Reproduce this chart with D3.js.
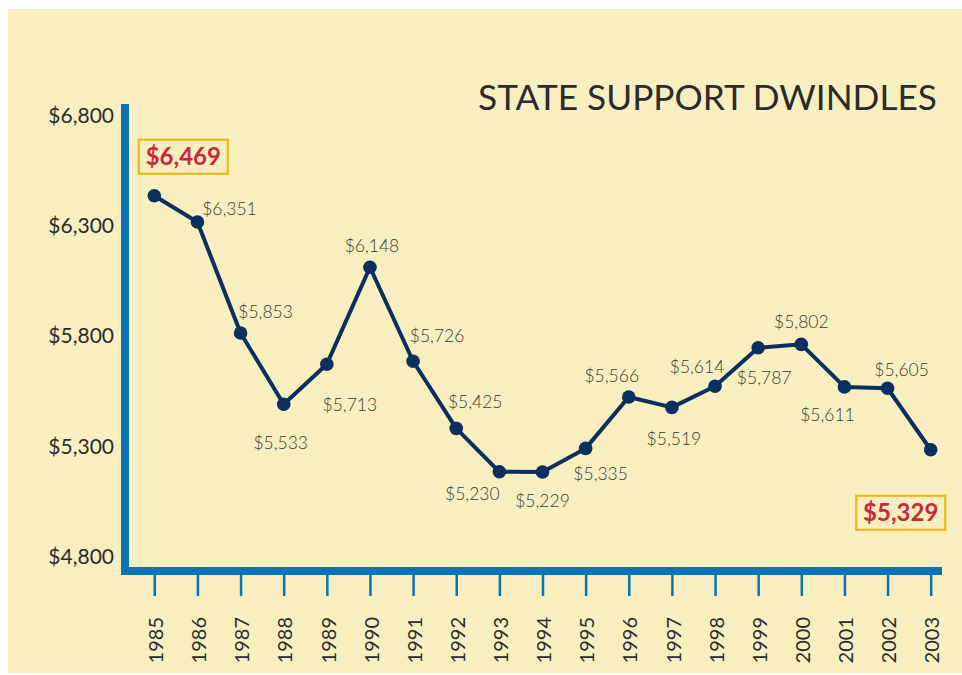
<!DOCTYPE html>
<html>
<head>
<meta charset="utf-8">
<script src="https://cdn.jsdelivr.net/npm/d3@7/dist/d3.min.js"></script>
<style>
  html, body { margin: 0; padding: 0; background: #ffffff; }
  svg { display: block; }
  text { font-family: Lato, "Open Sans", sans-serif; }
</style>
</head>
<body>
<svg id="chart" width="962" height="675"></svg>
<script>
// ---- data ----
const years = [1985, 1986, 1987, 1988, 1989, 1990, 1991, 1992, 1993, 1994,
               1995, 1996, 1997, 1998, 1999, 2000, 2001, 2002, 2003];
const values = [6469, 6351, 5853, 5533, 5713, 6148, 5726, 5425, 5230, 5229,
                5335, 5566, 5519, 5614, 5787, 5802, 5611, 5605, 5329];
const yTickValues = [4800, 5300, 5800, 6300, 6800];
const highlightYears = [1985, 2003];
const title = "STATE SUPPORT DWINDLES";

// ---- label placement (center offsets from the point, px) ----
const labelOffsets = [
  [29, -39], [32, -13], [25, -21], [-3, 38], [23, 41], [2, -22], [24, -26],
  [19, -27], [-27, 22], [0, 29], [15, 25], [-17, -21], [2, 31], [-18, -20],
  [6, 30], [0, -23], [-17, 28], [14, -19], [-30, 63]
];

const colors = {
  page: "#ffffff", bg: "#f8eebf", axis: "#0b72b4", line: "#0b2f5f",
  text: "#2b2b2b", label: "#3a3a3a", hi: "#c9283a", box: "#e8b71d"
};

const svg = d3.select("#chart");
svg.append("rect").attr("width", 962).attr("height", 675).attr("fill", colors.page);
svg.append("rect").attr("x", 8).attr("y", 9).attr("width", 954).attr("height", 664).attr("fill", colors.bg);

const x = d3.scaleLinear().domain([1985, 2003]).range([154.3, 930.7]);
const y = d3.scaleLinear().domain([4800, 6800]).range([567.6, 122]);
// tick labels in the original sit on a slightly tighter grid
const yLabel = d3.scaleLinear().domain([4800, 6800]).range([556.7, 115.7]);

const fmt = v => "$" + d3.format(",")(v);

// title
svg.append("text")
  .attr("x", 937).attr("y", 110)
  .attr("text-anchor", "end")
  .attr("font-size", 35)
  .attr("fill", colors.text)
  .attr("textLength", 459)
  .attr("lengthAdjust", "spacingAndGlyphs")
  .text(title);

// y axis labels
const yAxis = d3.axisLeft(yLabel).tickValues(yTickValues).tickSize(0).tickPadding(7).tickFormat(fmt);
const gy = svg.append("g").attr("transform", "translate(121,0)").call(yAxis);
gy.select(".domain").remove();
gy.selectAll("text").attr("font-size", 21).attr("fill", colors.text)
  .attr("font-family", "Lato, 'Open Sans', sans-serif");

// x axis ticks
const xAxis = d3.axisBottom(x).tickValues(years).tickSize(21).tickFormat("");
const gx = svg.append("g").attr("transform", "translate(0,575)").call(xAxis);
gx.select(".domain").remove();
gx.selectAll("line").attr("stroke", colors.axis).attr("stroke-width", 2.5);

// year labels (rotated)
svg.append("g").selectAll("text")
  .data(years).join("text")
  .attr("transform", d => `translate(${x(d) + 1.5},617) rotate(-90)`)
  .attr("text-anchor", "end")
  .attr("dy", "0.36em")
  .attr("font-size", 20)
  .attr("fill", colors.text)
  .text(d => d);

// axis bars
svg.append("rect").attr("x", 121).attr("y", 104).attr("width", 8).attr("height", 471).attr("fill", colors.axis);
svg.append("rect").attr("x", 121).attr("y", 567).attr("width", 821).attr("height", 8).attr("fill", colors.axis);

// line
const data = years.map((yr, i) => ({ year: yr, value: values[i], off: labelOffsets[i] }));
svg.append("path")
  .datum(data)
  .attr("fill", "none")
  .attr("stroke", colors.line)
  .attr("stroke-width", 4)
  .attr("stroke-linejoin", "round")
  .attr("d", d3.line().x(d => x(d.year)).y(d => y(d.value)));

svg.append("g").selectAll("circle")
  .data(data).join("circle")
  .attr("cx", d => x(d.year))
  .attr("cy", d => y(d.value))
  .attr("r", 6.8)
  .attr("fill", colors.line);

// value labels
const normal = data.filter(d => !highlightYears.includes(d.year));
svg.append("g").selectAll("text")
  .data(normal).join("text")
  .attr("x", d => x(d.year) + d.off[0])
  .attr("y", d => y(d.value) + d.off[1])
  .attr("text-anchor", "middle")
  .attr("dy", "0.36em")
  .attr("font-size", 17.5)
  .attr("font-weight", 300)
  .attr("fill", colors.label)
  .text(d => fmt(d.value));

// highlighted labels with boxes
const hi = data.filter(d => highlightYears.includes(d.year));
const hg = svg.append("g").selectAll("g").data(hi).join("g")
  .attr("transform", d => `translate(${x(d.year) + d.off[0]},${y(d.value) + d.off[1]})`);
hg.append("rect")
  .attr("x", -44.5).attr("y", -17).attr("width", 89).attr("height", 34)
  .attr("fill", colors.bg)
  .attr("stroke", colors.box)
  .attr("stroke-width", 2.2);
hg.append("text")
  .attr("text-anchor", "middle")
  .attr("dy", "0.36em")
  .attr("font-size", 24)
  .attr("font-weight", "bold")
  .attr("fill", colors.hi)
  .text(d => fmt(d.value));
</script>
</body>
</html>
